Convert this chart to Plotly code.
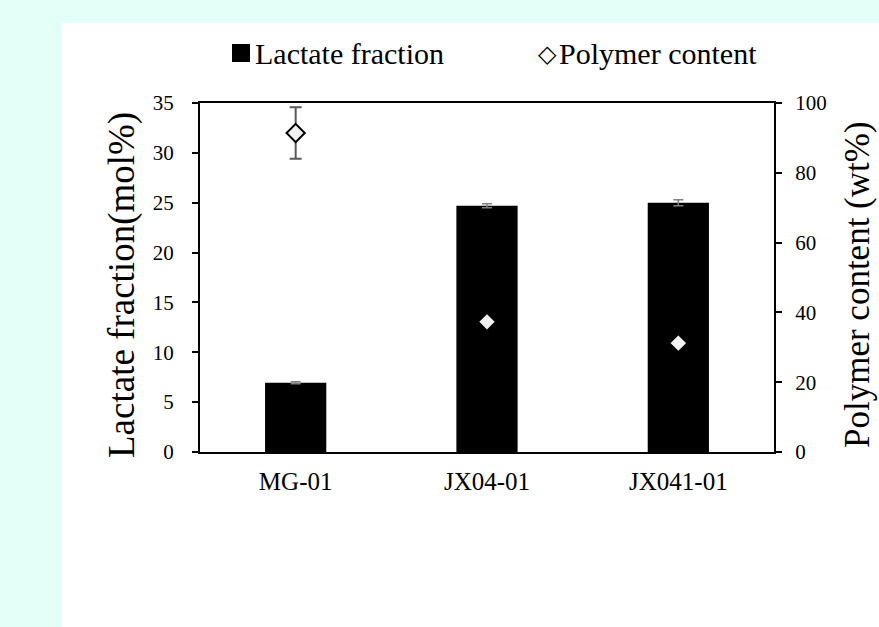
import plotly.graph_objects as go

# ---- data ----
strains = ["MG-01", "JX04-01", "JX041-01"]
lactate_fraction = [6.95, 24.7, 25.0]      # mol%
lactate_err = [0.1, 0.2, 0.3]
polymer_content = [91.4, 37.3, 31.2]       # wt%
polymer_err = [7.4, 1.0, 1.0]

left_ticks = [0, 5, 10, 15, 20, 25, 30, 35]
right_ticks = [0, 20, 40, 60, 80, 100]

FONT = "Liberation Serif, Times New Roman, serif"

# pixel layout helpers
W, H = 879, 627
L, R, T, B = 200, 105, 103, 175
pw, ph = W - L - R, H - T - B
def px(x):
    return (x - L) / pw
def py(y):
    return (H - B - y) / ph

fig = go.Figure()

fig.add_trace(go.Bar(
    x=strains, y=lactate_fraction, name="Lactate fraction",
    marker=dict(color="black", line=dict(width=0)),
    width=0.32,
    error_y=dict(type="data", array=lactate_err, color="#808080", thickness=1.5, width=5),
    yaxis="y",
))

fig.add_trace(go.Scatter(
    x=strains, y=polymer_content, name="Polymer content", mode="markers",
    marker=dict(symbol="diamond", size=14, color="#F2F2F2", line=dict(color="black", width=2)),
    error_y=dict(type="data", array=polymer_err, color="#595959", thickness=2, width=6),
    yaxis="y2",
))

fig.update_layout(
    width=W, height=H,
    margin=dict(l=L, r=R, t=T, b=B),
    paper_bgcolor="#E2FFF8",
    plot_bgcolor="white",
    showlegend=False,
    font=dict(family=FONT, color="black"),
    xaxis=dict(
        showline=True, linecolor="black", linewidth=2, mirror=True,
        ticks="", showgrid=False, zeroline=False,
        tickfont=dict(family=FONT, size=25, color="black"),
        ticklabelstandoff=6,
        range=[-0.5, 2.5],
    ),
    yaxis=dict(
        range=[0, 35], tickvals=left_ticks,
        showline=True, linecolor="black", linewidth=2,
        ticks="outside", ticklen=6, tickwidth=1.5, tickcolor="black",
        showgrid=False, zeroline=False,
        tickfont=dict(family=FONT, size=21, color="black"),
        ticklabelstandoff=14,
    ),
    yaxis2=dict(
        range=[0, 100], tickvals=right_ticks, overlaying="y", side="right",
        showline=True, linecolor="black", linewidth=2,
        ticks="outside", ticklen=6, tickwidth=1.5, tickcolor="black",
        showgrid=False, zeroline=False,
        tickfont=dict(family=FONT, size=21, color="black"),
        ticklabelstandoff=9,
    ),
    shapes=[
        dict(type="rect", xref="paper", yref="paper", layer="below",
             x0=px(62), x1=px(900), y0=py(650), y1=py(23),
             fillcolor="white", line=dict(width=0)),
        # legend key for the bars
        dict(type="rect", xref="paper", yref="paper", layer="above",
             x0=px(232), x1=px(250), y0=py(62), y1=py(44),
             fillcolor="black", line=dict(width=0)),
    ],
    annotations=[
        dict(text="Lactate fraction(mol%)", textangle=-90, xref="paper", yref="paper",
             x=px(122), y=py(285), xanchor="center", yanchor="middle", showarrow=False,
             font=dict(family=FONT, size=37, color="black")),
        dict(text="Polymer content (wt%)", textangle=-90, xref="paper", yref="paper",
             x=px(857), y=py(285), xanchor="center", yanchor="middle", showarrow=False,
             font=dict(family=FONT, size=35, color="black")),
        dict(text="Lactate fraction", xref="paper", yref="paper",
             x=px(253), y=py(53), xanchor="left", yanchor="middle", showarrow=False,
             font=dict(family=FONT, size=30, color="black")),
        dict(text="◇", xref="paper", yref="paper",
             x=px(536), y=py(54), xanchor="left", yanchor="middle", showarrow=False,
             font=dict(family=FONT, size=24, color="black")),
        dict(text="Polymer content", xref="paper", yref="paper",
             x=px(557), y=py(53), xanchor="left", yanchor="middle", showarrow=False,
             font=dict(family=FONT, size=30, color="black")),
    ],
)

fig.write_html("out.html")
